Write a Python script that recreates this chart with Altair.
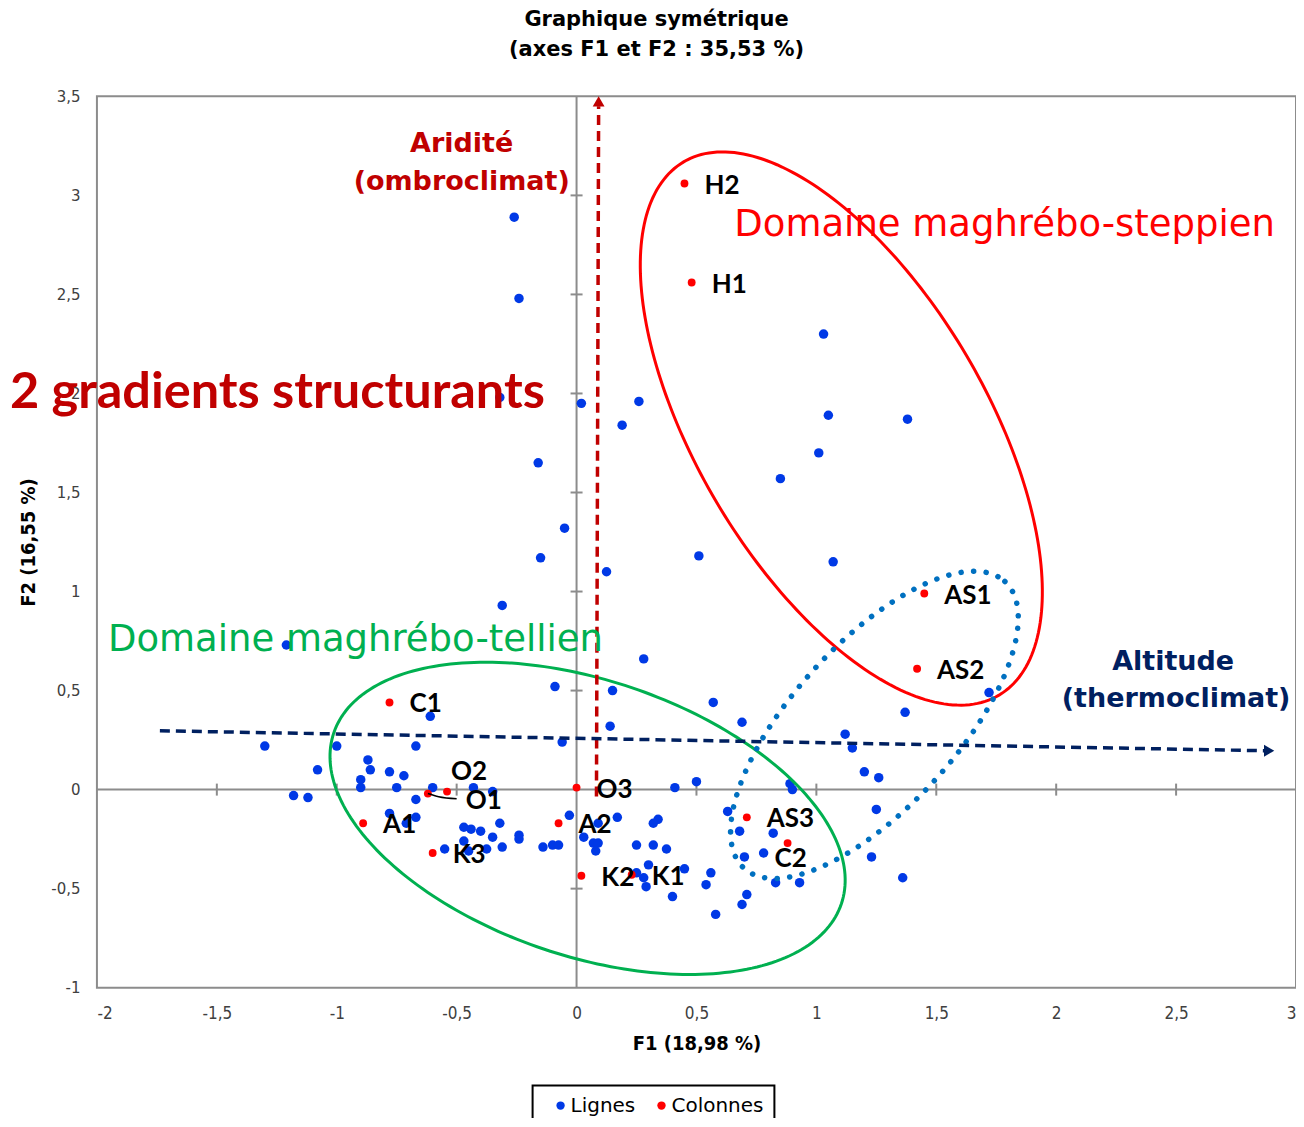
import math
import altair as alt
import pandas as pd

# ---------------- data ----------------
blue_f1 = [-0.26, -0.24, -0.32, 0.02, 0.26, 0.19, -0.16, -0.05, -0.15, 0.125,
           0.51, -0.31, -1.21, 0.28, -0.09, 0.15, 0.57, 1.03, 1.05, 1.38,
           1.01, 0.85, 1.07, 1.72, 1.37, 0.69, 1.12, 1.15, 1.20, 1.26,
           0.89, 0.90, 1.25, 0.63, 0.68, 0.82, 0.70, 0.78, 1.23, 0.83,
           0.93, 1.36, 0.71, 0.69, 0.14, -0.06, 0.50, 0.41, -0.03, 0.17,
           0.34, 0.32, 0.09, 0.03, 0.07, 0.09, 0.08, 0.25, 0.32, 0.375,
           0.30, 0.45, 0.25, 0.28, 0.29, 0.56, 0.54, 0.40, 0.58, -0.61,
           -1.30, -1.00, -0.67, -1.08, -0.87, -0.86, -0.78, -0.72, -0.90, -0.90,
           -0.75, -1.18, -1.12, -0.60, -0.43, -0.35, -0.67, -0.78, -0.67, -0.71,
           -0.47, -0.44, -0.32, -0.40, -0.35, -0.24, -0.24, -0.47, -0.55, -0.45,
           -0.375, -0.31, -0.14, -0.10, -0.075]
blue_f2 = [2.89, 2.48, 1.98, 1.95, 1.96, 1.84, 1.65, 1.32, 1.17, 1.10,
           1.18, 0.93, 0.73, 0.66, 0.52, 0.50, 0.44, 2.30, 1.89, 1.87,
           1.70, 1.57, 1.15, 0.49, 0.39, 0.34, 0.28, 0.21, 0.09, 0.06,
           0.03, 0.00, -0.10, -0.11, -0.21, -0.22, -0.34, -0.32, -0.34, -0.47,
           -0.47, -0.445, -0.53, -0.58, 0.32, 0.24, 0.04, 0.01, -0.13, -0.14,
           -0.15, -0.17, -0.17, -0.24, -0.27, -0.27, -0.31, -0.28, -0.28, -0.30,
           -0.38, -0.40, -0.42, -0.445, -0.49, -0.42, -0.48, -0.54, -0.63, 0.37,
           0.22, 0.22, 0.22, 0.10, 0.15, 0.10, 0.09, 0.07, 0.05, 0.01,
           0.01, -0.03, -0.04, 0.01, 0.01, -0.01, -0.05, -0.12, -0.14, -0.17,
           -0.19, -0.20, -0.17, -0.21, -0.24, -0.23, -0.25, -0.26, -0.30, -0.31,
           -0.30, -0.29, -0.29, -0.28, -0.28]

red_names = ["H2", "H1", "AS1", "AS2", "AS3", "C2", "C1", "O1", "O2", "O3",
             "A1", "A2", "K3", "K2", "K1"]
red_f1 = [0.45, 0.48, 1.45, 1.42, 0.71, 0.88, -0.78, -0.62, -0.54, 0.00,
          -0.89, -0.075, -0.60, 0.02, 0.23]
red_f2 = [3.06, 2.56, 0.99, 0.61, -0.14, -0.27, 0.44, -0.02, -0.01, 0.01,
          -0.17, -0.17, -0.32, -0.435, -0.43]

series_names = ["Lignes", "Colonnes"]
series_colors = ["#0039E6", "#FF0000"]

x_axis_values = [-2, -1.5, -1, -0.5, 0, 0.5, 1, 1.5, 2, 2.5, 3]
y_axis_values = [-1, -0.5, 0, 0.5, 1, 1.5, 2, 2.5, 3, 3.5]
x_cross_ticks = [-1.5, -1, -0.5, 0.5, 1, 1.5, 2, 2.5]
y_cross_ticks = [-0.5, 0.5, 1, 1.5, 2, 2.5, 3]

# ---------------- layout ----------------
W, H = 1200, 892
XD, YD = [-2, 3], [-1, 3.5]
SX = W / (XD[1] - XD[0])
SY = H / (YD[1] - YD[0])

GRAY = "#8C8C8C"
NARROW = "Liberation Sans Narrow, DejaVu Sans Condensed, sans-serif"
xs = alt.Scale(domain=XD, nice=False, zero=False)
ys = alt.Scale(domain=YD, nice=False, zero=False)

xaxis = alt.Axis(values=x_axis_values, title="F1 (18,98 %)",
                 labelExpr="replace(toString(datum.value), '.', ',')",
                 labelFont=NARROW, labelFontSize=17, labelColor="#404040",
                 labelPadding=18,
                 titleFont=NARROW, titleFontSize=20, titleFontWeight="bold",
                 titleColor="#000000", titlePadding=12,
                 domain=False, ticks=False, grid=False)
yaxis = alt.Axis(values=y_axis_values, title="F2 (16,55 %)",
                 labelExpr="replace(toString(datum.value), '.', ',')",
                 labelFont="DejaVu Sans", labelFontSize=15, labelColor="#404040",
                 labelPadding=17,
                 titleFont=NARROW, titleFontSize=20, titleFontWeight="bold",
                 titleColor="#000000", titlePadding=12,
                 domain=False, ticks=False, grid=False)

X = alt.X("x:Q", scale=xs, axis=xaxis)
Y = alt.Y("y:Q", scale=ys, axis=yaxis)


def ellipse(cx, cy, a_px, b_px, ang_deg, n=240):
    th = math.radians(ang_deg)
    rows = []
    for i in range(n + 1):
        t = 2 * math.pi * i / n
        ex = a_px * math.cos(t) * math.cos(th) - b_px * math.sin(t) * math.sin(th)
        ey = a_px * math.cos(t) * math.sin(th) + b_px * math.sin(t) * math.cos(th)
        rows.append({"x": cx + ex / SX, "y": cy - ey / SY, "o": i})
    return pd.DataFrame(rows)


blue_df = pd.DataFrame({"x": blue_f1, "y": blue_f2, "series": series_names[0]})
red_df = pd.DataFrame({"x": red_f1, "y": red_f2, "name": red_names,
                       "series": series_names[1]})

color = alt.Color("series:N",
                  scale=alt.Scale(domain=series_names, range=series_colors),
                  legend=alt.Legend(orient="none", legendX=436, legendY=990,
                                    direction="horizontal", title=None,
                                    strokeColor="#000000", padding=10,
                                    labelFont="DejaVu Sans", labelFontSize=20,
                                    labelColor="#000000", symbolType="circle",
                                    symbolSize=70, symbolStrokeWidth=0,
                                    symbolOffset=8, labelOffset=0,
                                    columnPadding=8))

layers = []

# crossing axes at 0 with their tick marks
layers.append(alt.Chart(pd.DataFrame({"x": [0]})).mark_rule(color=GRAY, strokeWidth=2).encode(x=X))
layers.append(alt.Chart(pd.DataFrame({"y": [0]})).mark_rule(color=GRAY, strokeWidth=2).encode(y=Y))
layers.append(alt.Chart(pd.DataFrame({"x": x_cross_ticks, "y": 0})).mark_tick(
    orient="vertical", size=12, thickness=2, color=GRAY, opacity=1).encode(x=X, y=Y))
layers.append(alt.Chart(pd.DataFrame({"x": 0, "y": y_cross_ticks})).mark_tick(
    orient="horizontal", size=12, thickness=2, color=GRAY, opacity=1).encode(x=X, y=Y))

# points
layers.append(alt.Chart(blue_df).mark_circle(size=90, opacity=1).encode(x=X, y=Y, color=color))
layers.append(alt.Chart(red_df).mark_circle(size=62, opacity=1).encode(x=X, y=Y, color=color))

# ellipses
layers.append(alt.Chart(ellipse(0.046, -0.145, 268, 138, 18.6)).mark_line(
    color="#00B050", strokeWidth=3).encode(x=X, y=Y, order="o:Q"))
layers.append(alt.Chart(ellipse(1.104, 1.823, 310, 145, 59.4)).mark_line(
    color="#FF0000", strokeWidth=3).encode(x=X, y=Y, order="o:Q"))
layers.append(alt.Chart(ellipse(1.242, 0.327, 194, 82, -47.7)).mark_line(
    color="#0070C0", strokeWidth=5.5, strokeDash=[0.1, 12.5], strokeCap="round").encode(
    x=X, y=Y, order="o:Q"))

# gradient arrows
red_arrow = pd.DataFrame({"x": [0.083, 0.092], "y": [-0.035, 3.45], "o": [0, 1]})
navy_arrow = pd.DataFrame({"x": [-1.7375, 2.88], "y": [0.297, 0.196], "o": [0, 1]})
layers.append(alt.Chart(red_arrow).mark_line(color="#C00000", strokeWidth=3.5,
                                             strokeDash=[10, 6]).encode(x=X, y=Y, order="o:Q"))
layers.append(alt.Chart(navy_arrow).mark_line(color="#002060", strokeWidth=3.5,
                                              strokeDash=[10, 6]).encode(x=X, y=Y, order="o:Q"))
layers.append(alt.Chart(pd.DataFrame({"x": [0.092], "y": [3.475]})).mark_point(
    shape="triangle-up", filled=True, size=140, color="#C00000", opacity=1).encode(x=X, y=Y))
layers.append(alt.Chart(pd.DataFrame({"x": [2.888], "y": [0.196]})).mark_point(
    shape="triangle-right", filled=True, size=140, color="#002060", opacity=1).encode(x=X, y=Y))

# leader line for O1
layers.append(alt.Chart(pd.DataFrame({"x": [-0.62, -0.575, -0.50], "y": [-0.02, -0.036, -0.046],
                                      "o": [0, 1, 2]})).mark_line(
    color="#000000", strokeWidth=1.5, interpolate="monotone").encode(x=X, y=Y, order="o:Q"))

# point labels
LABEL_FONT = dict(font="Lato", fontSize=26, fontWeight="bold", color="#000000",
                  align="left", baseline="middle")
special = {"C2": (-13, 16), "O1": (38, 7), "O2": (4, -20)}
std = red_df[~red_df["name"].isin(list(special))]
layers.append(alt.Chart(std).mark_text(dx=20, dy=2, **LABEL_FONT).encode(x=X, y=Y, text="name:N"))
for nm, (ddx, ddy) in special.items():
    layers.append(alt.Chart(red_df[red_df["name"] == nm]).mark_text(
        dx=ddx, dy=ddy, **LABEL_FONT).encode(x=X, y=Y, text="name:N"))

# annotations
def note(x, y, text, **kw):
    return alt.Chart(pd.DataFrame({"x": [x], "y": [y], "t": [text]})).mark_text(
        baseline="middle", **kw).encode(x=X, y=Y, text="t:N")

layers.append(note(-2.3625, 2.002, "2 gradients structurants", font="Lato", fontSize=50.5,
                   fontWeight="bold", color="#C00000", align="left"))
layers.append(note(-0.479, 3.258, "Aridité", font="DejaVu Sans", fontSize=27,
                   fontWeight="bold", color="#C00000", align="center"))
layers.append(note(-0.479, 3.066, "(ombroclimat)", font="DejaVu Sans", fontSize=27,
                   fontWeight="bold", color="#C00000", align="center"))
layers.append(note(2.4875, 0.645, "Altitude", font="DejaVu Sans", fontSize=27,
                   fontWeight="bold", color="#002060", align="center"))
layers.append(note(2.50, 0.458, "(thermoclimat)", font="DejaVu Sans", fontSize=27,
                   fontWeight="bold", color="#002060", align="center"))
layers.append(note(0.658, 2.850, "Domaine maghrébo-steppien", font="DejaVu Sans",
                   fontSize=37, color="#FF0000", align="left"))
layers.append(note(-1.954, 0.756, "Domaine maghrébo-tellien", font="DejaVu Sans",
                   fontSize=37, color="#00B050", align="left"))

chart = alt.layer(*layers).properties(
    width=W, height=H,
    autosize="none",
    padding={"left": 89, "top": 88, "right": 0, "bottom": 130},
    title=alt.TitleParams(text=["Graphique symétrique", "(axes F1 et F2 : 35,53 %)"],
                          font="DejaVu Sans", fontSize=21, fontWeight="bold",
                          color="#000000", anchor="middle", dx=-40, offset=29,
                          lineHeight=30),
).configure_view(stroke=GRAY, strokeWidth=2).configure_legend(strokeWidth=2)

chart.save("out.html", embed_options={"renderer": "svg", "actions": False})
